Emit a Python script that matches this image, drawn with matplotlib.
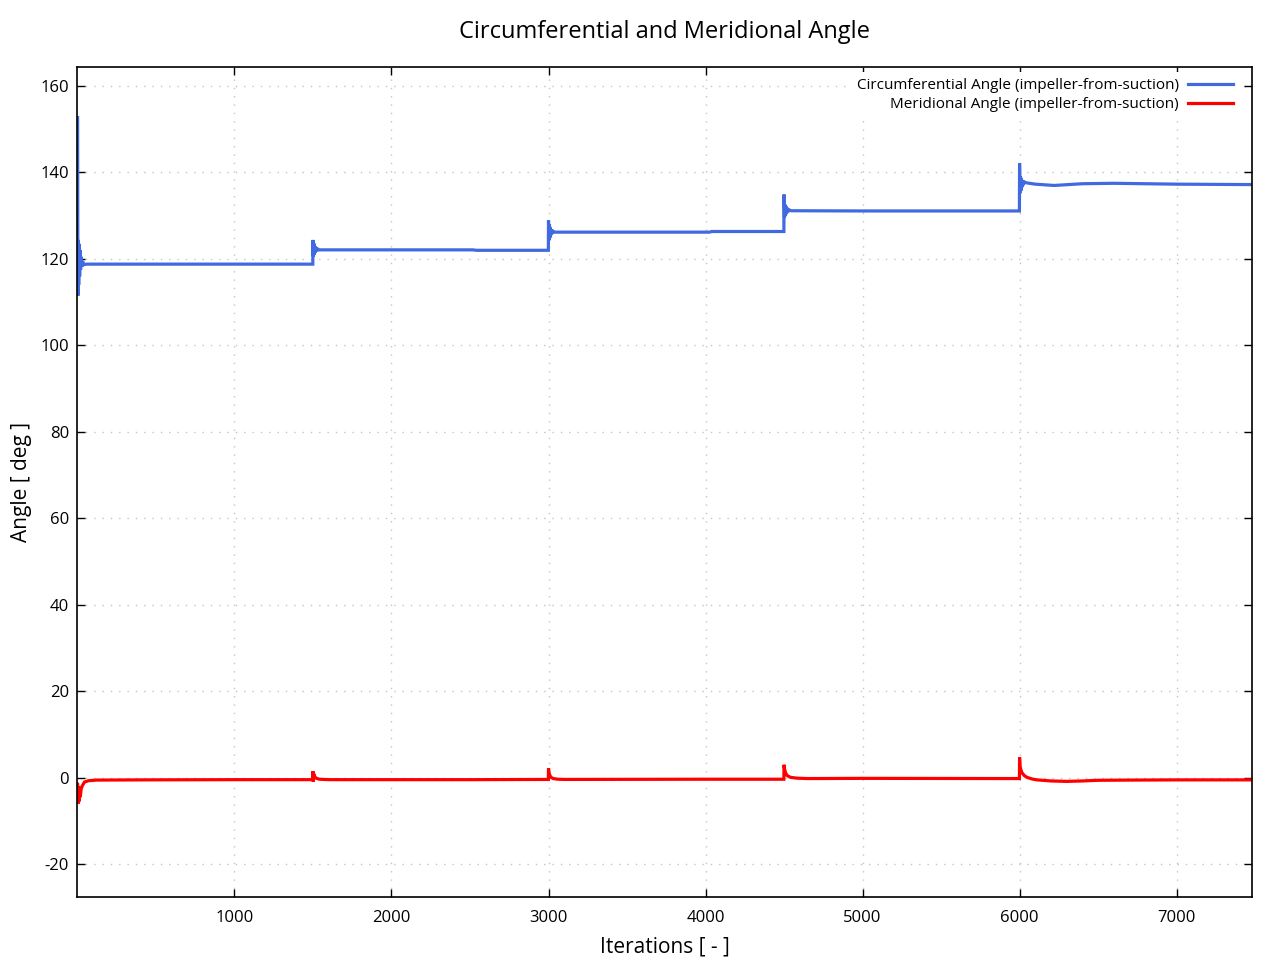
import matplotlib
matplotlib.use("Agg")
import matplotlib.pyplot as plt

plt.rcParams['font.family'] = ['Open Sans', 'DejaVu Sans']
plt.rcParams['axes.unicode_minus'] = False

title = "Circumferential and Meridional Angle"
xlabel = "Iterations [ - ]"
ylabel = "Angle [ deg ]"
label_circ = "Circumferential Angle (impeller-from-suction)"
label_meri = "Meridional Angle (impeller-from-suction)"

xticks = [1000, 2000, 3000, 4000, 5000, 6000, 7000]
yticks = [-20, 0, 20, 40, 60, 80, 100, 120, 140, 160]

circ_iter = [1, 3, 5, 8, 11, 14, 17, 20, 24, 28, 33, 40, 60, 200, 1000,
             1499, 1500, 1503, 1506, 1509, 1512, 1515, 1519, 1524, 1530, 1540, 2520, 2540,
             2999, 3000, 3003, 3006, 3009, 3012, 3015, 3019, 3024, 3030, 3040, 4025, 4040,
             4499, 4500, 4503, 4506, 4509, 4512, 4515, 4519, 4524, 4530, 4545, 5000,
             5999, 6000, 6003, 6006, 6009, 6012, 6015, 6019, 6024, 6030, 6045, 6100, 6220,
             6400, 6600, 7000, 7480]
circ_angle = [152.7, 111.5, 124.4, 114.0, 123.5, 116.0, 122.0, 117.5, 120.5, 118.2, 119.5, 118.7, 118.8, 118.8, 118.8,
              118.8, 124.4, 120.6, 123.6, 121.0, 123.0, 121.5, 122.6, 121.8, 122.3, 122.1, 122.1, 122.0,
              122.0, 128.9, 124.3, 128.0, 124.9, 127.3, 125.5, 126.8, 125.9, 126.4, 126.2, 126.2, 126.35,
              126.35, 134.9, 129.6, 132.6, 130.0, 132.2, 130.4, 131.8, 130.8, 131.4, 131.15, 131.1,
              131.1, 142.1, 135.2, 139.1, 135.8, 138.6, 136.6, 138.2, 137.1, 137.8, 137.6, 137.3, 137.0,
              137.4, 137.5, 137.3, 137.2]

meri_iter = [1, 4, 7, 10, 14, 18, 24, 32, 45, 70, 120, 400, 1000,
             1499, 1500, 1502, 1505, 1510, 1520, 1540, 1600, 2500,
             2999, 3000, 3003, 3008, 3015, 3030, 3060, 3100, 4000,
             4499, 4500, 4503, 4510, 4520, 4540, 4580, 4650, 5000,
             5999, 6000, 6003, 6014, 6030, 6046, 6080, 6110, 6200, 6300, 6400, 6500, 6700, 7000, 7480]
meri_angle = [-1.5, -6.0, -2.0, -5.5, -3.0, -4.5, -2.5, -1.8, -1.0, -0.7, -0.55, -0.5, -0.45,
              -0.45, 1.5, -0.9, 0.9, 0.3, -0.1, -0.35, -0.45, -0.45,
              -0.4, 2.2, 1.2, 0.6, 0.1, -0.2, -0.35, -0.4, -0.35,
              -0.35, 3.0, 2.0, 1.1, 0.5, 0.1, -0.1, -0.2, -0.15,
              -0.2, 4.7, 2.5, 1.2, 0.5, 0.1, -0.3, -0.5, -0.75, -0.85, -0.75, -0.6, -0.55, -0.5, -0.5]

fig = plt.figure(figsize=(12.8, 9.6), dpi=100)
ax = fig.add_axes([0.0605, 0.0656, 0.9176, 0.8646])

ax.plot(circ_iter, circ_angle, color='#4169E1', lw=2.3, label=label_circ, solid_joinstyle='miter')
ax.plot(meri_iter, meri_angle, color='#FF0000', lw=2.3, label=label_meri, solid_joinstyle='miter')

ax.set_xlim(0, 7480)
ax.set_ylim(-27.6, 164.4)
ax.set_xticks(xticks)
ax.set_yticks(yticks)
ax.grid(True, linestyle=(0, (1, 5)), color='#c4c4c4', lw=1.0)
ax.set_axisbelow(True)
ax.tick_params(direction='in', top=True, right=True, length=6, width=1.0,
               labelsize=12, colors='black')
ax.tick_params(axis='x', pad=9)
ax.tick_params(axis='y', pad=6)
for s in ax.spines.values():
    s.set_linewidth(1.2)
    s.set_color('black')

ax.set_title(title, fontsize=17, pad=21)
ax.set_xlabel(xlabel, fontsize=15, labelpad=8)
ax.set_ylabel(ylabel, fontsize=15, labelpad=6)

leg = ax.legend(loc='upper right', bbox_to_anchor=(1 - 8 / 1174, 1 - 0.5 / 830), fontsize=11,
                markerfirst=False, frameon=True,
                fancybox=False, handlelength=2.95, borderaxespad=0.3, labelspacing=0.24,
                handletextpad=0.6)
leg.get_frame().set_facecolor('white')
leg.get_frame().set_edgecolor('none')
leg.get_frame().set_alpha(1.0)
for col in leg._legend_handle_box.get_children():
    col.align = 'right'

fig.savefig("out.png", dpi=100)
